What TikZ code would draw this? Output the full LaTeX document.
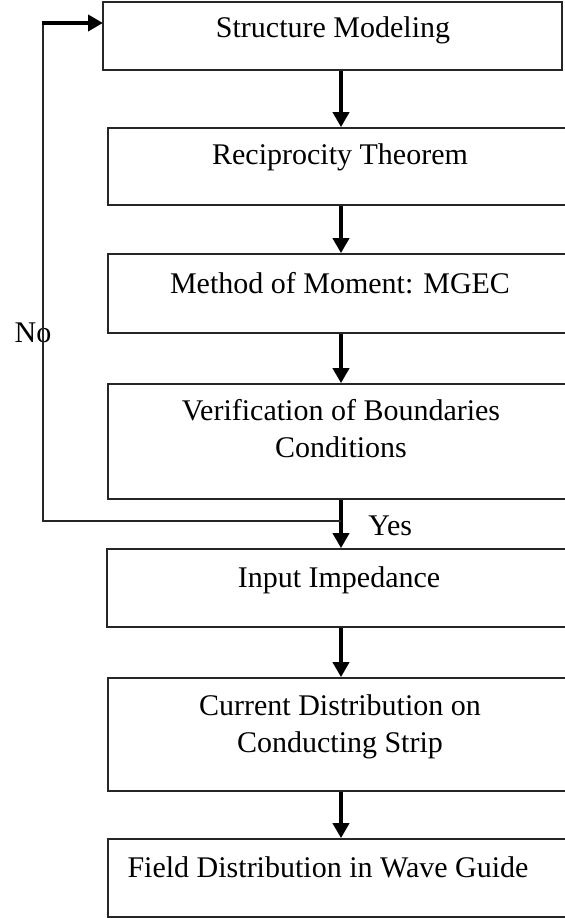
\documentclass[tikz,border=0pt]{standalone}
\usepackage{fontspec}
\setmainfont{Liberation Serif}
\usetikzlibrary{arrows.meta,fit}
\tikzset{
  stepbox/.style={draw=black!85, line width=0.85pt, inner sep=0pt, fit={#1}},
  lbl/.style={font=\fontsize{15pt}{18.5pt}\selectfont, inner sep=0pt, anchor=base, align=center},
  flow/.style={line width=2.2pt, -{Triangle[width=8pt,length=7.5pt]}},
  loopline/.style={line width=0.85pt, black!85}
}
\begin{document}
\begin{tikzpicture}[x=0.5pt,y=-0.5pt]
\useasboundingbox (0,0) rectangle (564,919);
% boxes
\node[stepbox={(103,2)(562,70)}] (b1) {};
\node[stepbox={(108,128)(566,205)}] (b2) {};
\node[stepbox={(108,254)(566,333)}] (b3) {};
\node[stepbox={(108,384)(566,499)}] (b4) {};
\node[stepbox={(107,549)(566,627)}] (b5) {};
\node[stepbox={(108,678)(566,791)}] (b6) {};
\node[stepbox={(108,839)(566,917)}] (b7) {};
% texts
\node[lbl] (t1) at (333,38) {Structure Modeling};
\node[lbl] (t2) at (340,165) {Reciprocity Theorem};
\node[lbl] (t3) at (340,293) {Method of Moment: MGEC};
\node[lbl] (t4) at (341,457) {Verification of Boundaries\\Conditions};
\node[lbl] (t5) at (339,587) {Input Impedance};
\node[lbl] (t6) at (340,752) {Current Distribution on\\Conducting Strip};
\node[lbl] (t7) at (328,877) {Field Distribution in Wave Guide};
\node[lbl] (no) at (33,343) {No};
\node[lbl, anchor=base west] (yes) at (368,535) {Yes};
% connectors
\coordinate (ax) at (341,0);
\draw[flow] (b1.south -| ax) -- (b2.north -| ax);
\draw[flow] (b2.south -| ax) -- (b3.north -| ax);
\draw[flow] (b3.south -| ax) -- (b4.north -| ax);
\draw[flow] (b4.south -| ax) -- (b5.north -| ax);
\draw[flow] (b5.south -| ax) -- (b6.north -| ax);
\draw[flow] (b6.south -| ax) -- (b7.north -| ax);
% feedback loop
\coordinate (jn) at (341,521);
\coordinate (lp) at (43,521);
\coordinate (ent) at (103,23);
\draw[loopline] (jn) -- (lp) -- (lp |- ent);
\draw[flow, shorten <=-0.4pt] (lp |- ent) -- (ent);
\end{tikzpicture}
\end{document}
